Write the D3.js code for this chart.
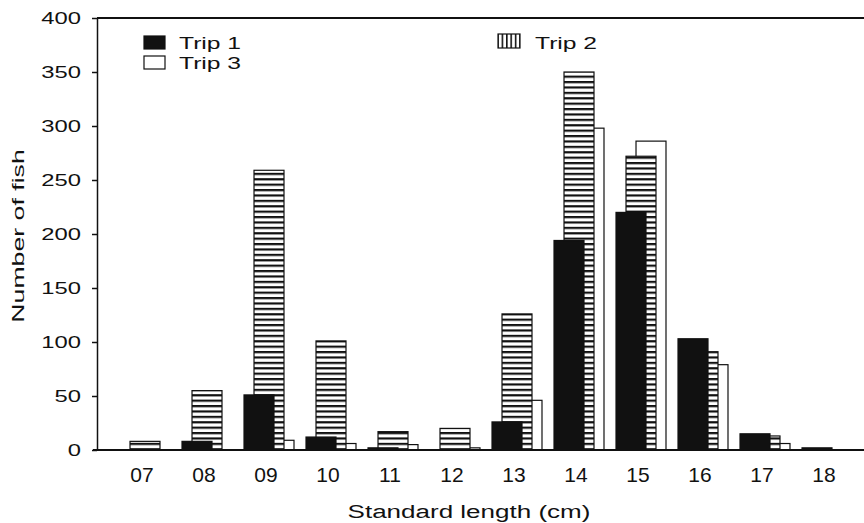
<!DOCTYPE html>
<html>
<head>
<meta charset="utf-8">
<script src="https://cdn.jsdelivr.net/npm/d3@7"></script>
<style>
  body { margin: 0; background: #fff; }
  svg { display: block; font-family: "Liberation Sans", Arial, Helvetica, sans-serif; }
</style>
</head>
<body>
<div id="chart"></div>
<script>
// values
const lengths = ["07", "08", "09", "10", "11", "12", "13", "14", "15", "16", "17", "18"];
const trip1 = [0, 8, 51, 12, 2, 0, 26, 194, 220, 103, 15, 2];
const trip2 = [8, 55, 259, 101, 17, 20, 126, 350, 272, 91, 13, 0];
const trip3 = [0, 0, 9, 6, 5, 2, 46, 298, 286, 79, 6, 0];
const trips = ["Trip 1", "Trip 2", "Trip 3"];
const yTicks = [0, 50, 100, 150, 200, 250, 300, 350, 400];

const width = 864, height = 523;
const plotLeft = 97, plotTop = 18, plotBottom = 450;

const svg = d3.select("#chart").append("svg")
  .attr("width", width)
  .attr("height", height);

// patterns: horizontal stripes for bars, vertical stripes for the legend key
const defs = svg.append("defs");
const hs = defs.append("pattern")
  .attr("id", "hstripe")
  .attr("patternUnits", "userSpaceOnUse")
  .attr("width", 8).attr("height", 5.4);
hs.append("rect").attr("width", 8).attr("height", 5.4).attr("fill", "#fff");
hs.append("rect").attr("width", 8).attr("height", 2.2).attr("fill", "#111");

const vs = defs.append("pattern")
  .attr("id", "vstripe")
  .attr("patternUnits", "userSpaceOnUse")
  .attr("width", 4.4).attr("height", 10);
vs.append("rect").attr("width", 4.4).attr("height", 10).attr("fill", "#fff");
vs.append("rect").attr("width", 1.6).attr("height", 10).attr("fill", "#111");

const x = d3.scaleBand()
  .domain(lengths)
  .range([114, 858])
  .paddingInner(0.194)
  .paddingOuter(0.097);

const xs = d3.scalePoint()
  .domain(trips)
  .range([0, 20]);
const barW = x.bandwidth() * 0.6;

const y = d3.scaleLinear()
  .domain([0, 400])
  .range([plotBottom, plotTop]);

const fills = { "Trip 1": "#111", "Trip 2": "url(#hstripe)", "Trip 3": "#fff" };
const seriesVals = { "Trip 1": trip1, "Trip 2": trip2, "Trip 3": trip3 };

// Trip 3 at the back, Trip 1 in front
["Trip 3", "Trip 2", "Trip 1"].forEach(t => {
  const rows = lengths.map((c, i) => ({ c, v: seriesVals[t][i] })).filter(d => d.v > 0);
  svg.append("g")
    .selectAll("rect")
    .data(rows)
    .join("rect")
    .attr("x", d => x(d.c) + xs(t))
    .attr("y", d => y(d.v))
    .attr("width", barW)
    .attr("height", d => y(0) - y(d.v))
    .attr("fill", fills[t])
    .attr("stroke", "#111")
    .attr("stroke-width", 1.2);
});

// frame lines
svg.append("line")
  .attr("x1", plotLeft).attr("x2", width).attr("y1", plotTop).attr("y2", plotTop)
  .attr("stroke", "#111").attr("stroke-width", 2);
svg.append("line")
  .attr("x1", plotLeft - 4).attr("x2", width).attr("y1", plotBottom).attr("y2", plotBottom)
  .attr("stroke", "#111").attr("stroke-width", 2);

// y axis
const yAxis = svg.append("g")
  .attr("transform", `translate(${plotLeft},0)`)
  .call(d3.axisLeft(y).tickValues(yTicks).tickSize(5).tickSizeOuter(0));
yAxis.select(".domain").attr("stroke", "#111").attr("stroke-width", 1.5);
yAxis.selectAll(".tick line").attr("stroke", "#111").attr("stroke-width", 1.5);
yAxis.selectAll(".tick text")
  .attr("x", -11.4)
  .attr("transform", "scale(1.4,1)")
  .attr("fill", "#111")
  .style("font-size", "17px");

// x axis labels
const xAxis = svg.append("g")
  .attr("transform", `translate(-3,${plotBottom})`)
  .call(d3.axisBottom(x).tickSize(0).tickPadding(17));
xAxis.select(".domain").remove();
xAxis.selectAll(".tick text")
  .attr("fill", "#111")
  .style("font-size", "21px");

// axis titles
svg.append("g")
  .attr("transform", "translate(469,518)")
  .append("text")
  .attr("text-anchor", "middle")
  .attr("transform", "scale(1.37,1)")
  .attr("fill", "#111")
  .style("font-size", "19px")
  .text("Standard length (cm)");

svg.append("g")
  .attr("transform", "translate(24,236) rotate(-90)")
  .append("text")
  .attr("text-anchor", "middle")
  .attr("transform", "scale(1.57,1)")
  .attr("fill", "#111")
  .style("font-size", "17px")
  .text("Number of fish");

// legend
const legendPos = [
  { t: "Trip 1", bx: 144, by: 36, bw: 21, bh: 13, tx: 179, ty: 49, fill: "#111" },
  { t: "Trip 2", bx: 498, by: 34, bw: 22, bh: 14, tx: 535, ty: 49, fill: "url(#vstripe)" },
  { t: "Trip 3", bx: 144, by: 56, bw: 21, bh: 13, tx: 179, ty: 69, fill: "#fff" }
];
const lg = svg.append("g").selectAll("g")
  .data(legendPos)
  .join("g");
lg.append("rect")
  .attr("x", d => d.bx).attr("y", d => d.by)
  .attr("width", d => d.bw).attr("height", d => d.bh)
  .attr("fill", d => d.fill)
  .attr("stroke", "#111").attr("stroke-width", 1.2);
lg.append("g")
  .attr("transform", d => `translate(${d.tx},${d.ty})`)
  .append("text")
  .attr("transform", "scale(1.45,1)")
  .attr("fill", "#111")
  .style("font-size", "17px")
  .text(d => d.t);
</script>
</body>
</html>
